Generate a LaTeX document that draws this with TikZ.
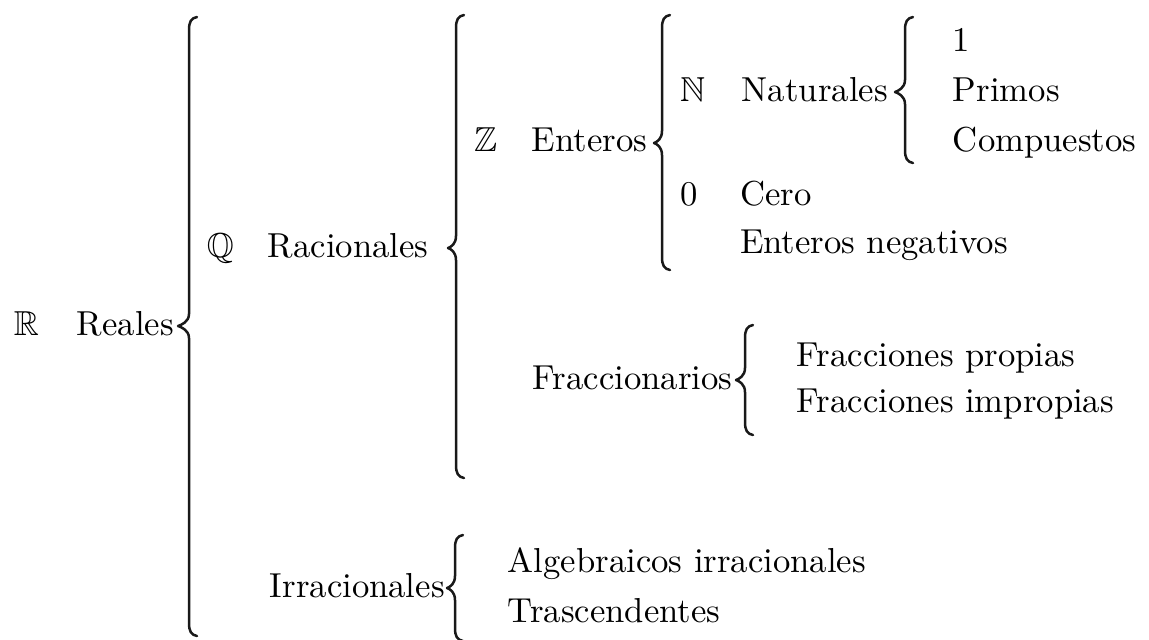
\documentclass[tikz,border=0pt]{standalone}
\usepackage{amssymb}
\tikzset{
  lbl/.style={anchor=base west, inner sep=0pt, outer sep=0pt, font=\fontsize{10.4}{12}\selectfont},
  bracestyle/.style={line width=0.75pt, line cap=round, line join=round, black!90}
}
\newcommand\bracepath[5]{%
  \draw[bracestyle] ({#1+8},#2) .. controls ({#1+2},{#2+1}) and (#1,{#2+5}) .. (#1,{#2+13})
    -- (#1,{#3-12}) .. controls (#1,{#3-4}) and ({#1-#5+3},{#3-1}) .. ({#1-#5},#3)
    .. controls ({#1-#5+3},{#3+1}) and (#1,{#3+4}) .. (#1,{#3+12})
    -- (#1,{#4-13}) .. controls (#1,{#4-5}) and ({#1+2},{#4-1}) .. ({#1+8},#4);}
\begin{document}
\begin{tikzpicture}[x=0.3pt,y=-0.3pt]
\useasboundingbox (0,0) rectangle (1149,639);
% level 0
\node[lbl] (R)  at (14,335) {$\mathbb{R}$};
\node[lbl] (reales) at (77,335) {Reales};
\bracepath{189}{17}{326}{636}{11}
% level 1
\node[lbl] (Q) at (207,257) {$\mathbb{Q}$};
\node[lbl] (racionales) at (268,257) {Racionales};
\bracepath{456}{15}{248}{478}{8}
\node[lbl] (irracionales) at (270,597) {Irracionales};
\bracepath{455}{535}{588}{641}{8}
% level 2
\node[lbl] (Z) at (474,151) {$\mathbb{Z}$};
\node[lbl] (enteros) at (532,151) {Enteros};
\bracepath{662}{15}{143}{270}{8}
\node[lbl] (fraccionarios) at (533,389) {Fraccionarios};
\bracepath{745}{325}{380}{435}{9}
\node[lbl] (algebraicos) at (508,572) {Algebraicos irracionales};
\node[lbl] (trascendentes) at (508,622) {Trascendentes};
% level 3
\node[lbl] (N) at (680,101) {$\mathbb{N}$};
\node[lbl] (naturales) at (742,101) {Naturales};
\bracepath{905}{17}{92}{163}{10}
\node[lbl] (cero0) at (680,205) {0};
\node[lbl] (cero) at (740,205) {Cero};
\node[lbl] (negativos) at (740,253) {Enteros negativos};
\node[lbl] (propias) at (797,366) {Fracciones propias};
\node[lbl] (impropias) at (797,412) {Fracciones impropias};
% level 4
\node[lbl] (uno) at (953,51) {1};
\node[lbl] (primos) at (953,101) {Primos};
\node[lbl] (compuestos) at (953,151) {Compuestos};
\end{tikzpicture}
\end{document}
